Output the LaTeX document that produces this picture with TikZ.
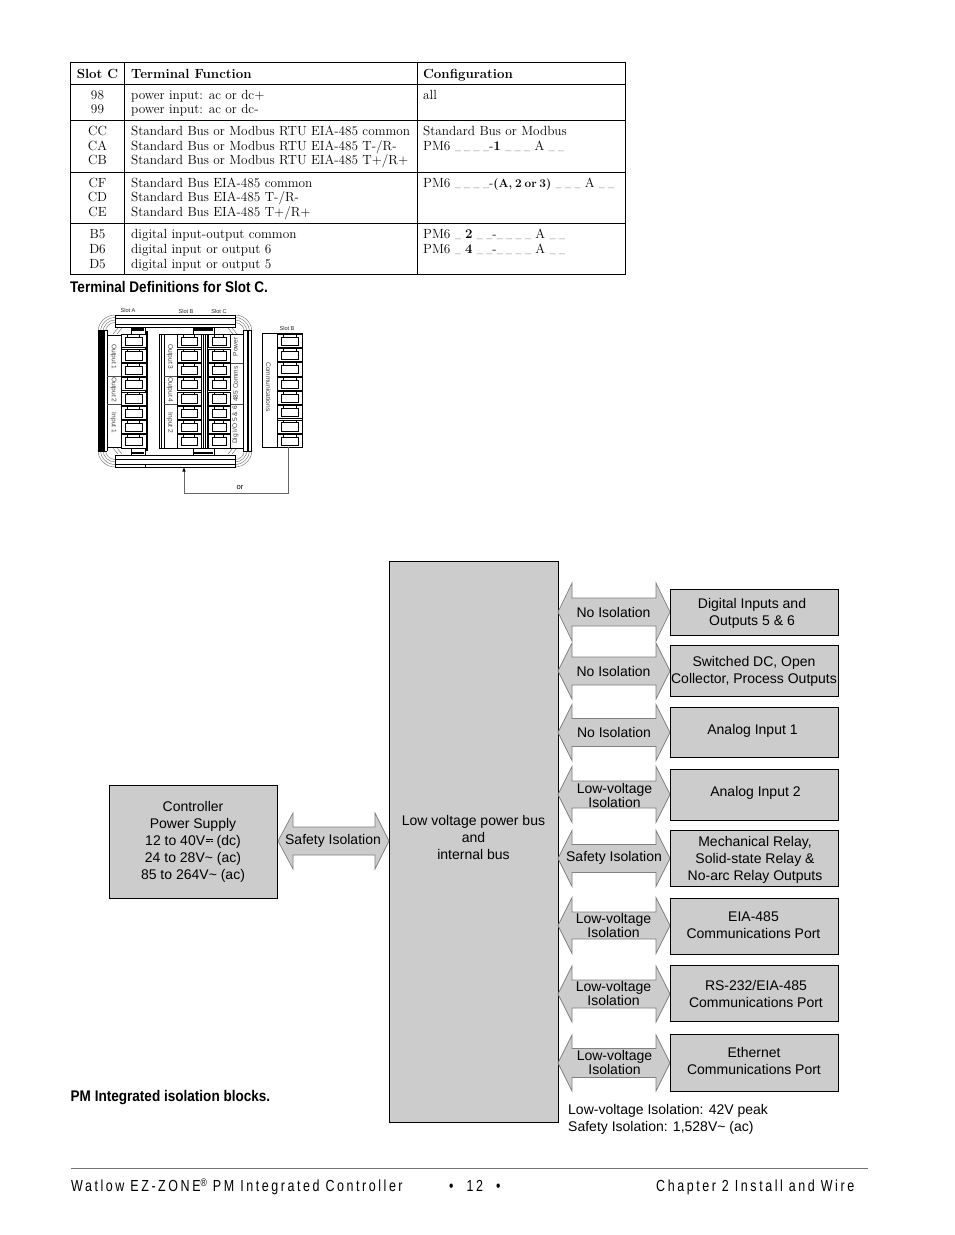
\documentclass[tikz,border=0pt]{standalone}
\usepackage{fontspec}
\setsansfont{Liberation Sans}
\newfontfamily\condfont[FakeStretch=0.88]{Liberation Sans}
\newfontfamily\footfont[FakeStretch=0.78,LetterSpace=16]{Liberation Sans}
\definecolor{boxgray}{gray}{0.8}
\definecolor{edgegray}{gray}{0.5}
\newcommand{\dcsym}{\hspace{0.6pt}\raisebox{5.2pt}{\rlap{\rule{7pt}{0.7pt}}}\raisebox{3.2pt}{\rlap{\rule{1.8pt}{0.6pt}\hspace{0.8pt}\rule{1.8pt}{0.6pt}\hspace{0.8pt}\rule{1.8pt}{0.6pt}}}\hspace{7pt}\ }
\newcommand{\acsym}{\textasciitilde\ }
\newcommand{\ub}{{\fontsize{7.6}{9}\selectfont\_}}
\newcommand{\us}{\ub\hspace{3.4pt}}
\tikzset{
 tbl/.style={line width=0.9pt,draw=black},
 ttxt/.style={anchor=base west,inner sep=0pt,font=\fontsize{13.27}{14}\selectfont},
 tcen/.style={anchor=base,inner sep=0pt,font=\fontsize{13.27}{14}\selectfont},
 captxt/.style={anchor=base west,inner sep=0pt,font=\condfont\bfseries\fontsize{15.4}{16}\selectfont},
 foot/.style={anchor=base west,inner sep=0pt,font=\footfont\fontsize{16}{17}\selectfont},
 gbox/.style={draw=black,fill=boxgray,line width=0.8pt,inner sep=0pt},
 lbl/.style={inner sep=0pt,align=center,font=\sffamily\fontsize{14}{17}\selectfont},
 isotxt/.style={inner sep=0pt,align=center,font=\sffamily\fontsize{14}{14}\selectfont},
 iso/.style={draw=edgegray,fill=boxgray,line width=0.7pt},
 tinytxt/.style={inner sep=0pt,font=\sffamily\fontsize{5.6}{6}\selectfont,text=black!85},
 sidetxt/.style={inner sep=0pt,font=\sffamily\fontsize{6.6}{8}\selectfont,text=black!75},
 term/.style={draw=black,line width=0.6pt,fill=white},
 arcl/.style={draw=black!55,line width=0.45pt},
 conn/.style={draw=black!60,line width=0.7pt},
}
\newcommand{\bx}[8]{% name x1 y1 x2 y2 textx texty text
 \pgfmathsetmacro{\bw}{#4-#2}\pgfmathsetmacro{\bh}{#5-#3}
 \pgfmathsetmacro{\bcx}{(#4+#2)/2}\pgfmathsetmacro{\bcy}{(#5+#3)/2}
 \node[gbox,minimum width=\bw pt,minimum height=\bh pt] (#1) at (\bcx,\bcy) {};
 \node[lbl] (#1-t) at (#6,#7) {#8};}
\newcommand{\isoarrow}[7]{%
 \filldraw[iso] (#1,#5) -- (#3,#5-#7) -- (#3,#5-#6) -- (#4,#5-#6) -- (#4,#5-#7) -- (#2,#5)
   -- (#4,#5+#7) -- (#4,#5+#6) -- (#3,#5+#6) -- (#3,#5+#7) -- cycle;}
\newcommand{\termcol}[3]{% x1 x2 y0
 \foreach \i in {0,...,7}{
  \pgfmathsetmacro{\ty}{#3+14.3*\i}
  \draw[term] (#1,\ty+0.6) rectangle (#2,\ty+13.7);
  \draw[black,line width=0.5pt] (#1+4,\ty+3.4) rectangle (#2-4,\ty+11.6);
  \draw[black,line width=0.5pt] (#1+6.5,\ty+1) -- (#1+6.5,\ty+3.4) (#2-6.5,\ty+1) -- (#2-6.5,\ty+3.4);
 }}
\begin{document}
\begin{tikzpicture}[x=1pt,y=-1pt]
\useasboundingbox (0,0) rectangle (954,1235);
\fill[white] (0,0) rectangle (954,1235);
% ---- table
\draw[tbl] (70.5,62.5) rectangle (625.5,274.5);
\draw[tbl] (124.5,62.5) -- (124.5,274.5) (417.5,62.5) -- (417.5,274.5);
\draw[tbl] (70.5,84) -- (625.5,84) (70.5,120.5) -- (625.5,120.5) (70.5,172.5) -- (625.5,172.5) (70.5,223) -- (625.5,223);
\node[tcen] (h1) at (97.5,78) {\textbf{Slot C}};
\node[ttxt] (h2) at (131,78) {\textbf{Terminal Function}};
\node[ttxt] (h3) at (423,78) {\textbf{Configuration}};
\node[tcen] (a1) at (97.5,99) {98};
\node[tcen] (a2) at (97.5,113.5) {99};
\node[ttxt] (b1) at (131,99) {power input: ac or dc+};
\node[ttxt] (b2) at (131,113.5) {power input: ac or dc-};
\node[ttxt] (c1) at (423,99) {all};
\node[tcen] (a3) at (97.5,135.5) {CC};
\node[tcen] (a4) at (97.5,150) {CA};
\node[tcen] (a5) at (97.5,164.5) {CB};
\node[ttxt] (b3) at (131,135.5) {Standard Bus or Modbus RTU EIA-485 common};
\node[ttxt] (b4) at (131,150) {Standard Bus or Modbus RTU EIA-485 T-/R-};
\node[ttxt] (b5) at (131,164.5) {Standard Bus or Modbus RTU EIA-485 T+/R+};
\node[ttxt] (c2) at (423,135.5) {Standard Bus or Modbus};
\node[ttxt] (c3) at (423,150) {PM6 \us\us\us\ub-\textbf{1} \us\us\ub\ A \us\ub};
\node[tcen] (a6) at (97.5,187) {CF};
\node[tcen] (a7) at (97.5,201.5) {CD};
\node[tcen] (a8) at (97.5,216.5) {CE};
\node[ttxt] (b6) at (131,187) {Standard Bus EIA-485 common};
\node[ttxt] (b7) at (131,201.5) {Standard Bus EIA-485 T-/R-};
\node[ttxt] (b8) at (131,216.5) {Standard Bus EIA-485 T+/R+};
\node[ttxt] (c4) at (423,187) {PM6 \us\us\us\ub-{\fontsize{11.8}{14}\selectfont\spaceskip=2.8pt\textbf{(A, 2 or 3)}} \us\us\ub\ A \us\ub};
\node[tcen] (a9) at (97.5,238.5) {B5};
\node[tcen] (a10) at (97.5,253) {D6};
\node[tcen] (a11) at (97.5,268) {D5};
\node[ttxt] (b9) at (131,238.5) {digital input-output common};
\node[ttxt] (b10) at (131,253) {digital input or output 6};
\node[ttxt] (b11) at (131,268) {digital input or output 5};
\node[ttxt] (c5) at (423,238.5) {PM6 \ub\ \textbf{2} \us\ub-\us\us\us\ub\ A \us\ub};
\node[ttxt] (c6) at (423,253) {PM6 \ub\ \textbf{4} \us\ub-\us\us\us\ub\ A \us\ub};
\node[captxt] (cap1) at (70,292.5) {Terminal Definitions for Slot C.};
% ---- controller drawing
\foreach \r in {17,14.5,12,9.5}{
 \draw[arcl] (115-\r,332) .. controls (115-\r,332-0.55*\r) and (115-0.55*\r,332-\r) .. (115,332-\r);
 \draw[arcl] (235+\r,332) .. controls (235+\r,332-0.55*\r) and (235+0.55*\r,332-\r) .. (235,332-\r);
 \draw[arcl] (115-\r,450) .. controls (115-\r,450+0.55*\r) and (115-0.55*\r,450+\r) .. (115,450+\r);
 \draw[arcl] (235+\r,450) .. controls (235+\r,450+0.55*\r) and (235+0.55*\r,450+\r) .. (235,450+\r);
}
\fill[white] (100,330) rectangle (251,452);
% corner ticks
\draw[arcl] (113,334) -- (118,328) (117,334) -- (122,328) (237,334) -- (232,328) (233,334) -- (228,328)
  (113,448) -- (118,454) (117,448) -- (122,454) (237,448) -- (232,454) (233,448) -- (228,454);
% top and bottom bars
\draw[black,fill=white,line width=0.6pt] (115,315) rectangle (235,327);
\draw[black,line width=1.3pt] (115,318.5) -- (235,318.5);
\draw[black,line width=0.6pt] (115,324) -- (235,324);
\draw[black,fill=white,line width=0.6pt] (115,455) rectangle (235,467);
\draw[black,line width=0.6pt] (115,459) -- (235,459);
\draw[black,line width=1.3pt] (115,464.5) -- (235,464.5);
\draw[black,line width=0.5pt] (145,464) -- (145,467);
% side bars
\fill[black] (98,330) rectangle (104.5,451);
\draw[black,line width=0.7pt] (98,330) -- (107,330) (98,451) -- (107,451);
\draw[black,line width=0.7pt] (107,330) -- (107,451);
\draw[black,line width=0.6pt] (243,330) -- (243,451);
\fill[black] (246.5,331) rectangle (248.5,451);
\draw[black,line width=0.8pt] (251.5,330) -- (251.5,451) (243,330) -- (251.5,330) (243,451) -- (251.5,451);
% tabs
\foreach \a/\b in {131/145,193/214}{
 \draw[black,fill=white,line width=0.5pt] (\a,327) rectangle (\b,334);
 \fill[black] (\a+1,328) rectangle (\b-1,330.5);
 \draw[black,fill=white,line width=0.5pt] (\a,448) rectangle (\b,455);
 \fill[black] (\a+1,451.5) rectangle (\b-1,453.5);
}
% columns
\draw[black,line width=0.6pt] (107,335) -- (121,335) (107,447.5) -- (121,447.5);
\fill[black] (145,331) rectangle (147.5,451);
\draw[black,line width=0.5pt] (121,334) -- (121,448);
\draw[black,line width=0.6pt] (159,334) -- (159,448) (161,334) -- (161,448) (164,334) -- (164,448) (159,334) -- (177,334) (159,448) -- (177,448);
\draw[black,line width=0.5pt] (201,334) -- (201,448) (203,334) -- (203,448) (205,334) -- (205,448) (207,334) -- (207,448);
\draw[black,line width=0.6pt] (230.5,334) -- (243,334) (230.5,448) -- (243,448);
\draw[black!70,line width=0.4pt] (107,376) -- (121,376) (107,404) -- (121,404) (164,376) -- (177,376) (164,404) -- (177,404) (230,363) -- (243,363) (230,404) -- (243,404);
\termcol{121}{146}{334}
\termcol{177}{201}{334}
\termcol{208}{230}{334}
% comm block
\node[draw=black,fill=white,line width=0.6pt,minimum width=40pt,minimum height=114pt,inner sep=0pt] (comm) at (282.5,390) {};
\termcol{277}{302.5}{333.5}
\draw[black,line width=0.5pt] (277,333) -- (277,447);
\node[tinytxt] (sA) at (128,310) {Slot A};
\node[tinytxt] (sB) at (186,311) {Slot B};
\node[tinytxt] (sC) at (219,311) {Slot C};
\node[tinytxt] (sB2) at (287,328) {Slot B};
\node[sidetxt,rotate=-90] (o1) at (113.5,357) {Output 1};
\node[sidetxt,rotate=-90] (o2) at (113.5,390) {Output 2};
\node[sidetxt,rotate=-90] (i1) at (113.5,423) {Input 1};
\node[sidetxt,rotate=-90] (o3) at (170,357) {Output 3};
\node[sidetxt,rotate=-90] (o4) at (170,390) {Output 4};
\node[sidetxt,rotate=-90] (i2) at (170,423) {Input 2};
\node[sidetxt,rotate=90] (pw) at (235.5,347) {Power};
\node[sidetxt,rotate=90] (cm) at (235.5,384) {485 Comms};
\node[sidetxt,rotate=90] (dg) at (235.5,425) {Dig I/O 5 \& 6};
\node[sidetxt,rotate=-90] (cmm) at (268.5,387) {Communications};
\coordinate (busin) at (184,467.5);
\coordinate (c1b) at (288,493.5);
\coordinate (c2b) at (184,493.5);
\coordinate (cs) at (288,447);
\draw[conn] (cs) -- (c1b) -- (c2b) -- (184,470);
\fill[black] (busin) -- (182.3,471.5) -- (185.7,471.5) -- cycle;
\node[inner sep=0pt,font=\sffamily\fontsize{7.6}{8}\selectfont] (ortxt) at (240,487) {or};
% ---- block diagram
\bx{pwr}{109.5}{785.5}{277.5}{898.5}{193}{841.5}{Controller\\Power Supply\\12 to 40V\dcsym(dc)\\24 to 28V\acsym(ac)\\85 to 264V\acsym(ac)}
\bx{bus}{389.5}{561.5}{558}{1122.5}{473.5}{837.5}{Low voltage power bus\\and\\internal bus}
\isoarrow{278}{389}{293}{375}{841}{14}{28}
\node[isotxt] (is0) at (333,841) {Safety Isolation};
\foreach \c/\s/\h in {612/14/29,671/14/28,732.5/14/28,794.5/13.5/28,858.5/14/28,925.5/13.5/28,994/14/28,1063/14.5/28}{
 \isoarrow{558}{670}{572}{656}{\c}{\s}{\h}
}
\node[isotxt] (is1) at (613.5,612.5) {No Isolation};
\node[isotxt] (is2) at (613.5,671.5) {No Isolation};
\node[isotxt] (is3) at (614,732.5) {No Isolation};
\node[isotxt] (is4) at (614.5,795) {Low-voltage\\Isolation};
\node[isotxt] (is5) at (614,857.5) {Safety Isolation};
\node[isotxt] (is6) at (613.5,925) {Low-voltage\\Isolation};
\node[isotxt] (is7) at (613.5,993) {Low-voltage\\Isolation};
\node[isotxt] (is8) at (614.5,1062) {Low-voltage\\Isolation};
\bx{o1b}{670}{589.5}{838.5}{635}{752}{613}{Digital Inputs and\\Outputs 5 \& 6}
\bx{o2b}{670}{645}{838.5}{696.5}{754}{671}{Switched DC, Open\\Collector, Process Outputs}
\bx{o3b}{670}{707.5}{838.5}{757.5}{752.5}{730.5}{Analog Input 1}
\bx{o4b}{670}{769.5}{838.5}{820}{755.5}{792.5}{Analog Input 2}
\bx{o5b}{670}{830.5}{838.5}{886.5}{755}{859.5}{Mechanical Relay,\\Solid-state Relay \&\\No-arc Relay Outputs}
\bx{o6b}{670}{898.5}{838.5}{954}{753.5}{925.5}{EIA-485\\Communications Port}
\bx{o7b}{670}{965.5}{838.5}{1021}{756}{994}{RS-232/EIA-485\\Communications Port}
\bx{o8b}{670}{1034}{838.5}{1091}{754}{1061}{Ethernet\\Communications Port}
\node[lbl,align=left,anchor=west] (legend) at (568,1119) {Low-voltage Isolation: 42V peak\\Safety Isolation: 1,528V\acsym(ac)};
\node[captxt] (cap2) at (70.5,1101) {PM Integrated isolation blocks.};
% ---- footer
\draw[black!55,line width=0.9pt] (71,1168.5) -- (868,1168.5);
\node[foot] (f1) at (71,1191) {Watlow EZ-ZONE\raisebox{5pt}{\fontsize{11}{11}\selectfont ®} PM Integrated Controller};
\node[foot] (f2) at (449,1191) {•\hspace{7pt} 12\hspace{7pt} •};
\node[foot] (f3) at (656,1191) {Chapter 2 Install and Wire};
\end{tikzpicture}
\end{document}
